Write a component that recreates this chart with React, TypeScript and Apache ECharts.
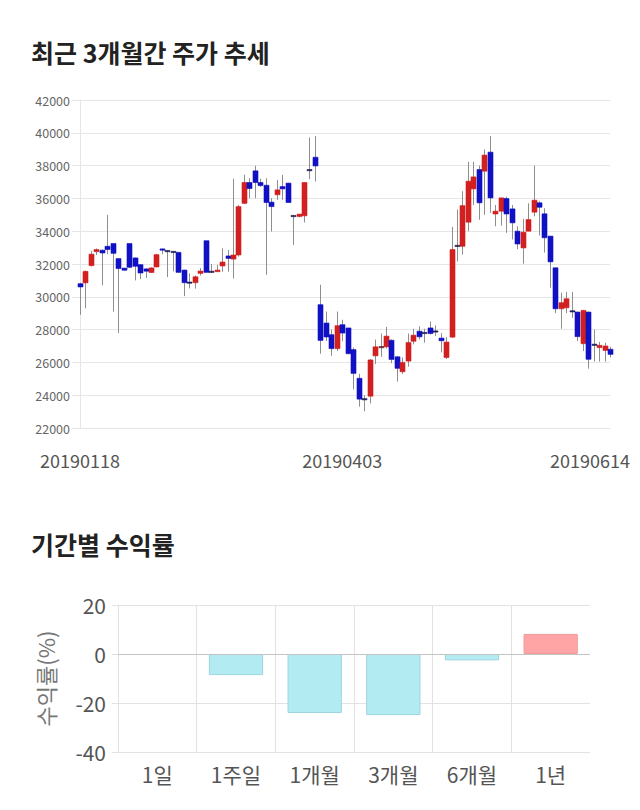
import React, { useEffect, useRef } from "react";
import * as echarts from "echarts";

const dates = [
  "20190118", "20190121", "20190122", "20190123", "20190124", "20190125",
  "20190128", "20190129", "20190130", "20190131", "20190207", "20190208",
  "20190211", "20190212", "20190213", "20190214", "20190215",
  "20190218", "20190219", "20190220", "20190221", "20190222",
  "20190225", "20190226", "20190227", "20190228",
  "20190304", "20190305", "20190306", "20190307", "20190308",
  "20190311", "20190312", "20190313", "20190314", "20190315",
  "20190318", "20190319", "20190320", "20190321", "20190322",
  "20190325", "20190326", "20190327", "20190328", "20190329",
  "20190401", "20190402", "20190403", "20190404", "20190405",
  "20190408", "20190409", "20190410", "20190411", "20190412",
  "20190415", "20190416", "20190417", "20190418", "20190419",
  "20190422", "20190423", "20190424", "20190425", "20190426",
  "20190429", "20190430", "20190502", "20190503",
  "20190507", "20190508", "20190509", "20190510",
  "20190513", "20190514", "20190515", "20190516", "20190517",
  "20190520", "20190521", "20190522", "20190523", "20190524",
  "20190527", "20190528", "20190529", "20190530", "20190531",
  "20190603", "20190604", "20190605", "20190607",
  "20190610", "20190611", "20190612", "20190613", "20190614",
];

const opens = [
  30800, 30850, 31900, 32750, 32840, 33080, 33250, 32330, 31750, 33250,
  32370, 31960, 31700, 31480, 31820, 32920, 32820, 32770, 32710, 31630,
  30900, 30860, 31430, 33420, 31560, 31530, 31880, 32490, 32300, 32550,
  35700, 36970, 37680, 36970, 36800, 35770, 36220, 36720, 36930, 34960,
  34900, 34940, 37760, 38510, 29520, 28400, 27690, 26840, 28300, 28100,
  26780, 25030, 23790, 23940, 26400, 26950, 26950, 27350, 26340, 25430,
  26080, 27290, 27900, 27830, 28100, 27920, 27480, 26300, 27540, 33140,
  33080, 34550, 36580, 37760, 37660, 38820, 35050, 35220, 35990, 35360,
  34000, 32980, 34000, 35160, 35730, 35060, 33700, 31770, 29270, 29330,
  29150, 29070, 27140, 29070, 27110, 26900, 26730, 26800,
];
const closes = [
  30600, 31550, 32600, 32880, 32670, 32880, 32650, 31720, 31620, 31800,
  31860, 31450, 31560, 31760, 32570, 32840, 32780, 32720, 31490, 30860,
  30860, 31220, 31570, 31490, 31520, 31630, 32120, 32340, 32550, 35500,
  36970, 36600, 36970, 36780, 35750, 35500, 36520, 36580, 35750, 34940,
  35040, 36970, 37740, 37980, 27340, 27550, 26840, 28240, 27790, 26530,
  25330, 23760, 23760, 26150, 26950, 26970, 27600, 26180, 25640, 26000,
  27210, 27660, 27560, 27810, 27760, 27890, 27320, 27240, 32880, 33120,
  35560, 37050, 37310, 35730, 38640, 36030, 35220, 36030, 35050, 34510,
  33220, 33940, 34710, 35890, 35460, 33600, 32130, 29270, 29640, 29880,
  29130, 27570, 29170, 26190, 27100, 27040, 27000, 26490,
];
const lows = [
  28900, 29300, 31850, 32550, 30700, 32600, 29100, 27800, 31600, 31750,
  31000, 31080, 31150, 31450, 31800, 32600, 31200, 31550, 31480, 30040,
  30510, 30500, 31300, 31480, 31450, 31530, 31530, 31530, 31120, 32450,
  35650, 36010, 36010, 36700, 31340, 33980, 35910, 35910, 35750, 33170,
  34850, 34530, 37170, 37030, 26530, 27300, 26400, 26700, 27300, 26500,
  24360, 23300, 23010, 23500, 25900, 26340, 26850, 25950, 24830, 25300,
  25740, 27100, 27400, 27200, 27700, 27600, 26610, 26200, 27500, 32160,
  32570, 34000, 35600, 34700, 35000, 35120, 34300, 34340, 33900, 33500,
  32900, 32020, 34000, 34910, 33740, 32700, 30550, 29000, 28050, 29000,
  28720, 27300, 26690, 25620, 26060, 26050, 26050, 26300,
];
const highs = [
  30850, 31600, 32800, 32950, 32880, 35000, 33250, 32350, 31750, 33250,
  32400, 32000, 31750, 31800, 32620, 32950, 32860, 32800, 32720, 31650,
  31430, 31300, 31750, 33420, 32000, 31950, 32950, 32850, 37200, 35600,
  37450, 37230, 37990, 37200, 37230, 36010, 37130, 37430, 36950, 34980,
  35040, 36970, 39710, 39810, 30730, 29100, 28000, 29100, 28600, 28100,
  26900, 25300, 24000, 26200, 27390, 27760, 28160, 27400, 26400, 26300,
  27760, 28050, 28200, 28050, 28500, 28250, 27790, 27540, 34260, 35320,
  36440, 38230, 38230, 38000, 38980, 39800, 35600, 36050, 36100, 35600,
  34300, 34750, 35700, 38000, 35830, 35400, 33700, 31770, 30250, 30300,
  30300, 29100, 29200, 29100, 28000, 27250, 27200, 26950,
];

const yTicks = [22000, 24000, 26000, 28000, 30000, 32000, 34000, 36000, 38000, 40000, 42000];
const dateLabelIdx = [0, 48, 97];

const periods = ["1일", "1주일", "1개월", "3개월", "6개월", "1년"];
const returns = [0, -8.6, -24.1, -24.9, -2.6, 8.2];
const retTicks = [-40, -20, 0, 20];

const FONT = "'Noto Sans CJK KR', 'Noto Sans', sans-serif";

export default function App() {
  const ref = useRef<HTMLDivElement>(null);
  useEffect(() => {
    if (!ref.current) return;
    const chart = echarts.init(ref.current, undefined, { renderer: "svg" });
    const candleData = dates.map((d, i) => [i, opens[i], closes[i], lows[i], highs[i]]);
    const barData = returns.map((v) => ({
      value: v,
      itemStyle:
        v === 0
          ? { opacity: 0 }
          : v > 0
          ? { color: "#ffa5a5", borderColor: "#f09a9a", borderWidth: 1 }
          : { color: "#b3ebf3", borderColor: "#9ed4de", borderWidth: 1 },
    }));
    const splitColors = periods.map(() => "#e2e2e2").concat(["rgba(0,0,0,0)"]);
    const option: any = {
      animation: false,
      backgroundColor: "#ffffff",
      textStyle: { fontFamily: FONT },
      title: [
        {
          text: "최근 3개월간 주가 추세",
          left: 26,
          top: 34,
          textStyle: { fontFamily: FONT, fontSize: 25, fontWeight: "bold", color: "#222" },
        },
        {
          text: "기간별 수익률",
          left: 26,
          top: 526,
          textStyle: { fontFamily: FONT, fontSize: 25, fontWeight: "bold", color: "#222" },
        },
      ],
      grid: [
        { left: 80, right: 30, top: 100, height: 328 },
        { left: 118, right: 50, top: 605, height: 147 },
      ],
      xAxis: [
        {
          gridIndex: 0,
          type: "category",
          data: dates,
          boundaryGap: false,
          axisLine: { show: false },
          axisTick: { show: false },
          splitLine: { show: false },
          axisLabel: {
            interval: (idx: number) => dateLabelIdx.indexOf(idx) >= 0,
            showMinLabel: true,
            showMaxLabel: true,
            margin: 23,
            fontSize: 18,
            color: "#555",
            fontFamily: FONT,
            formatter: (v: string, idx: number) => (idx === dates.length - 1 ? `{last|${v}}` : v),
            rich: {
              last: { padding: [0, 40, 0, 0], fontSize: 18, color: "#555", fontFamily: FONT },
            },
          },
        },
        {
          gridIndex: 1,
          type: "category",
          data: periods,
          axisLine: { onZero: false, show: false },
          axisTick: { show: true, length: 11, lineStyle: { color: splitColors } },
          splitLine: { show: true, lineStyle: { color: splitColors } },
          axisLabel: { fontSize: 21, color: "#555", margin: 11, fontFamily: FONT },
        },
      ],
      yAxis: [
        {
          gridIndex: 0,
          type: "value",
          min: yTicks[0],
          max: yTicks[yTicks.length - 1],
          interval: 2000,
          axisLine: { show: true, lineStyle: { color: "#e6e6e6" } },
          axisTick: { show: true, length: 8, lineStyle: { color: "#e6e6e6" } },
          splitLine: { show: true, lineStyle: { color: "#e6e6e6" } },
          axisLabel: {
            fontSize: 12.5,
            color: "#666",
            margin: 10,
            fontFamily: FONT,
            formatter: (v: number) => String(v),
          },
        },
        {
          gridIndex: 1,
          type: "value",
          min: retTicks[0],
          max: retTicks[retTicks.length - 1],
          interval: 20,
          name: "수익률(%)",
          nameLocation: "middle",
          nameGap: 62,
          nameTextStyle: { fontSize: 22, color: "#777", fontFamily: FONT },
          axisLine: { show: false },
          axisTick: { show: true, length: 6, lineStyle: { color: "#e2e2e2" } },
          splitLine: { show: true, lineStyle: { color: "#e2e2e2" } },
          axisLabel: { fontSize: 21, color: "#555", margin: 12, fontFamily: FONT },
        },
      ],
      series: [
        {
          type: "custom",
          xAxisIndex: 0,
          yAxisIndex: 0,
          data: candleData,
          encode: { x: 0, y: [1, 2, 3, 4] },
          renderItem: (params: any, api: any) => {
            const i = api.value(0);
            const o = api.value(1);
            const c = api.value(2);
            const l = api.value(3);
            const h = api.value(4);
            const pO = api.coord([i, o]);
            const pC = api.coord([i, c]);
            const pL = api.coord([i, l]);
            const pH = api.coord([i, h]);
            const cx = Math.round(pO[0]) + 0.5;
            const top = Math.min(pO[1], pC[1]);
            const bh = Math.max(Math.abs(pO[1] - pC[1]), 1.2);
            const col = c > o ? "#d21f1f" : "#1010c4";
            const w = 5;
            return {
              type: "group",
              children: [
                {
                  type: "line",
                  shape: { x1: cx, y1: pH[1], x2: cx, y2: pL[1] },
                  style: { stroke: "#8e8e8e", lineWidth: 1 },
                },
                {
                  type: "rect",
                  shape: { x: cx - w / 2, y: top, width: w, height: bh },
                  style: { fill: col, stroke: Math.abs(o - c) < 60 ? "#222" : col, lineWidth: 0.6 },
                },
              ],
            };
          },
        },
        {
          type: "bar",
          xAxisIndex: 1,
          yAxisIndex: 1,
          data: barData,
          barWidth: "69%",
          markLine: {
            silent: true,
            symbol: "none",
            label: { show: false },
            lineStyle: { color: "#c4c4c4", type: "solid", width: 1 },
            data: [{ yAxis: 0 }],
          },
        },
      ],
    };
    chart.setOption(option);
    return () => chart.dispose();
  }, []);
  return (
    <div
      ref={ref}
      style={{ position: "absolute", left: 0, top: 0, width: 640, height: 810 }}
    />
  );
}
